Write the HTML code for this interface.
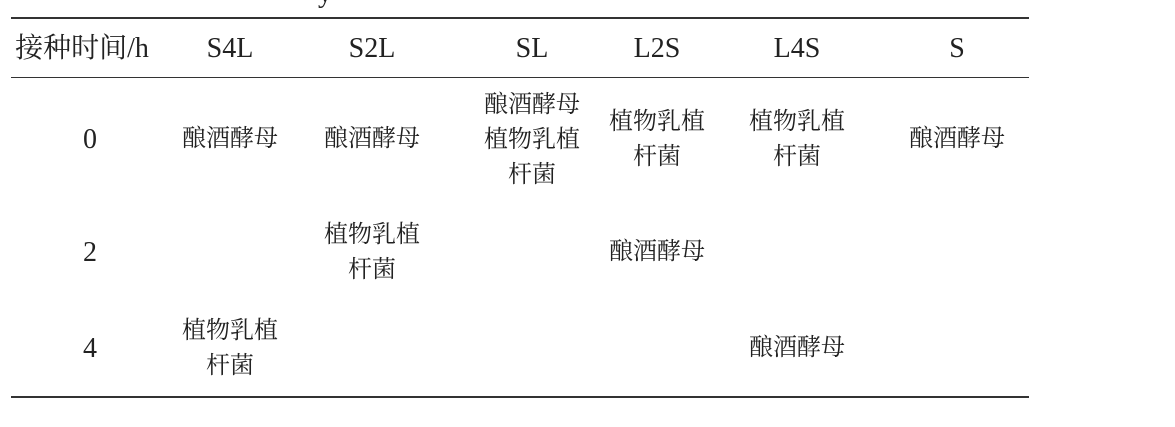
<!DOCTYPE html>
<html><head><meta charset="utf-8"><style>
body{margin:0;width:1175px;height:427px;background:#fff;position:relative;overflow:hidden;font-family:"Liberation Serif","Noto Serif CJK SC",serif;color:#222}
.l{position:absolute;left:11px;width:1018px;background:#333}
.t{position:absolute;transform:translateX(-50%);text-align:center;font-size:24px;line-height:35px;white-space:nowrap}
.h{font-size:28px}
</style></head><body>
<div class="t h" style="left:325px;top:-24px">y</div>
<div class="l" style="top:17px;height:2px"></div>
<div class="l" style="top:77px;height:1px"></div>
<div class="l" style="top:396px;height:2px"></div>
<div class="t h" style="left:82px;top:31px">接种时间/h</div>
<div class="t h" style="left:230px;top:31px">S4L</div>
<div class="t h" style="left:372px;top:31px">S2L</div>
<div class="t h" style="left:532px;top:31px">SL</div>
<div class="t h" style="left:657px;top:31px">L2S</div>
<div class="t h" style="left:797px;top:31px">L4S</div>
<div class="t h" style="left:957px;top:31px">S</div>

<div class="t h" style="left:90px;top:122px">0</div>
<div class="t" style="left:230px;top:122px">酿酒酵母</div>
<div class="t" style="left:372px;top:122px">酿酒酵母</div>
<div class="t" style="left:532px;top:88px">酿酒酵母<br>植物乳植<br>杆菌</div>
<div class="t" style="left:657px;top:105px">植物乳植<br>杆菌</div>
<div class="t" style="left:797px;top:105px">植物乳植<br>杆菌</div>
<div class="t" style="left:957px;top:122px">酿酒酵母</div>

<div class="t h" style="left:90px;top:235px">2</div>
<div class="t" style="left:372px;top:218px">植物乳植<br>杆菌</div>
<div class="t" style="left:657px;top:235px">酿酒酵母</div>

<div class="t h" style="left:90px;top:331px">4</div>
<div class="t" style="left:230px;top:314px">植物乳植<br>杆菌</div>
<div class="t" style="left:797px;top:331px">酿酒酵母</div>
</body></html>
